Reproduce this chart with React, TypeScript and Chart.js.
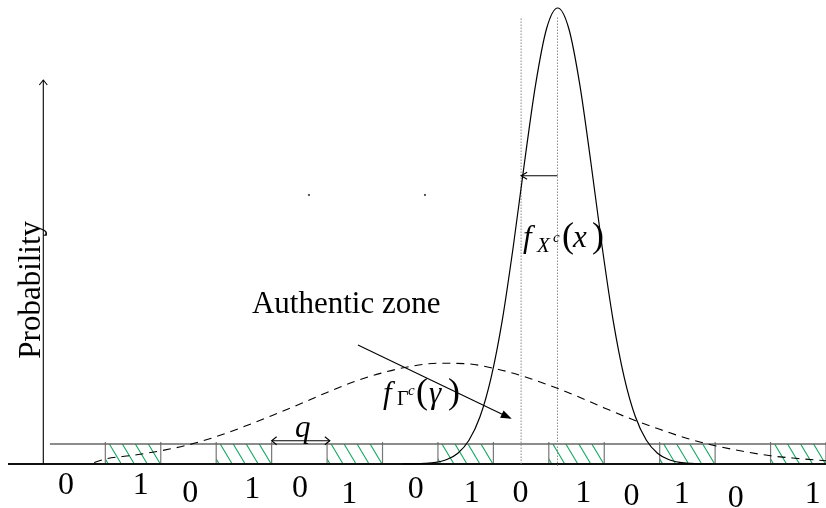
import React, { useEffect, useRef } from "react";
import { Chart, registerables } from "chart.js";

Chart.register(...registerables);

// ---- data (x in units of the bin width q, y in probability density units) ----
const bits = [0, 1, 0, 1, 0, 1, 0, 1, 0, 1, 0, 1, 0, 1]; // bin k spans [k, k+1]
const bitLabels = ["0", "1", "0", "1", "0", "1", "0", "1", "0", "1", "0", "1", "0", "1"];
const bitLabelX = [0.29, 1.64, 2.53, 3.65, 4.51, 5.4, 6.6, 7.61, 8.49, 9.62, 10.49, 11.4, 12.37, 13.76];
const bitLabelDrop = [30, 30, 38, 34, 33, 39, 34, 38, 38, 38, 41, 39, 43, 39];

const sharpX = [6.36, 6.56, 6.76, 6.96, 7.16, 7.36, 7.56, 7.76, 7.96, 8.16, 8.36, 8.56, 8.76, 8.96, 9.16,
  9.36, 9.56, 9.76, 9.96, 10.16, 10.36, 10.56, 10.76, 10.96, 11.16, 11.36, 11.56, 11.76, 11.96];
const sharpY = [0.0001, 0.0004, 0.0013, 0.0037, 0.0099, 0.0237, 0.052, 0.104, 0.19, 0.315, 0.478, 0.66, 0.831, 0.955, 1.0,
  0.955, 0.831, 0.66, 0.478, 0.315, 0.19, 0.104, 0.052, 0.0237, 0.0099, 0.0037, 0.0013, 0.0004, 0.0001];

const broadX = [0.8, 1.0, 1.5, 2.0, 2.5, 3.0, 3.5, 4.0, 4.5, 5.0, 5.5, 6.0, 6.5, 7.0, 7.5, 8.0, 8.5, 9.0, 9.5,
  10.0, 10.5, 11.0, 11.5, 12.0, 12.5, 13.0, 13.5, 14.0];
const broadY = [0.003, 0.011, 0.019, 0.029, 0.042, 0.06, 0.082, 0.106, 0.131, 0.157, 0.181, 0.2, 0.214, 0.221,
  0.22, 0.21, 0.194, 0.173, 0.149, 0.123, 0.098, 0.076, 0.056, 0.04, 0.028, 0.018, 0.012, 0.007];

const STRIP_TOP = 0.044;
const PEAK_X = 9.156;
const CENTER_X = 8.5;

const SERIF = "'Liberation Serif', 'Times New Roman', serif";
const HATCH = "rgb(24,168,98)";

function openHead(ctx: CanvasRenderingContext2D, tx: number, ty: number, dx: number, dy: number, len: number, half: number) {
  // tip at (tx,ty), direction (dx,dy) normalized points toward tip
  const n = Math.hypot(dx, dy);
  const ux = dx / n, uy = dy / n;
  const px = -uy, py = ux;
  ctx.beginPath();
  ctx.moveTo(tx - ux * len + px * half, ty - uy * len + py * half);
  ctx.lineTo(tx, ty);
  ctx.lineTo(tx - ux * len - px * half, ty - uy * len - py * half);
  ctx.stroke();
}

const diagramPlugin = {
  id: "diagram",
  beforeDatasetsDraw(chart: any) {
    const ctx: CanvasRenderingContext2D = chart.ctx;
    const xs = chart.scales.x, ys = chart.scales.y;
    const X = (u: number) => xs.getPixelForValue(u);
    const Y = (v: number) => ys.getPixelForValue(v);
    ctx.save();
    const y0 = Y(0), y1 = Y(STRIP_TOP);

    // hatched cells
    bits.forEach((b, k) => {
      if (!b) return;
      const l = X(k), r = X(k + 1);
      ctx.save();
      ctx.beginPath();
      ctx.rect(l, y1, r - l, y0 - y1);
      ctx.clip();
      ctx.strokeStyle = HATCH;
      ctx.lineWidth = 1.1;
      ctx.beginPath();
      for (let t = l + 4 - 26; t < r + 13; t += 13) {
        ctx.moveTo(t, y1);
        ctx.lineTo(t + 12, y0);
      }
      ctx.stroke();
      ctx.restore();
      ctx.strokeStyle = "#777";
      ctx.lineWidth = 1.2;
      ctx.beginPath();
      ctx.moveTo(l, y1 - 2); ctx.lineTo(l, y0);
      ctx.moveTo(r, y1 - 2); ctx.lineTo(r, y0);
      ctx.stroke();
    });

    // strip top line
    ctx.strokeStyle = "#666";
    ctx.lineWidth = 1.5;
    ctx.beginPath();
    ctx.moveTo(X(0), y1);
    ctx.lineTo(X(14), y1);
    ctx.stroke();

    // baseline
    ctx.strokeStyle = "#111";
    ctx.lineWidth = 2;
    ctx.beginPath();
    ctx.moveTo(X(-0.756), y0);
    ctx.lineTo(X(14), y0);
    ctx.stroke();

    // y axis with arrow
    const ax = X(-0.119);
    ctx.lineWidth = 1.1;
    ctx.strokeStyle = "#000";
    ctx.beginPath();
    ctx.moveTo(ax, y0);
    ctx.lineTo(ax, Y(0.842));
    ctx.stroke();
    openHead(ctx, ax, Y(0.842), 0, -1, 5, 4);

    // dotted verticals
    ctx.strokeStyle = "#888";
    ctx.lineWidth = 1;
    ctx.setLineDash([1.5, 1.5]);
    ctx.beginPath();
    ctx.moveTo(X(CENTER_X), y0);
    ctx.lineTo(X(CENTER_X), Y(0.98));
    ctx.moveTo(X(PEAK_X), y0 + 2);
    ctx.lineTo(X(PEAK_X), Y(0.98));
    ctx.stroke();
    ctx.setLineDash([]);
    ctx.restore();
  },
  afterDatasetsDraw(chart: any) {
    const ctx: CanvasRenderingContext2D = chart.ctx;
    const xs = chart.scales.x, ys = chart.scales.y;
    const X = (u: number) => xs.getPixelForValue(u);
    const Y = (v: number) => ys.getPixelForValue(v);
    ctx.save();
    ctx.fillStyle = "#000";
    ctx.strokeStyle = "#000";
    ctx.textBaseline = "alphabetic";

    // bit labels
    ctx.font = `32px ${SERIF}`;
    ctx.textAlign = "center";
    bitLabels.forEach((s, i) => {
      ctx.fillText(s, X(bitLabelX[i]), Y(0) + bitLabelDrop[i]);
    });
    ctx.textAlign = "left";

    // horizontal arrow from peak to center line
    const ay = Y(0.632);
    ctx.lineWidth = 1.1;
    ctx.beginPath();
    ctx.moveTo(X(PEAK_X), ay);
    ctx.lineTo(X(CENTER_X), ay);
    ctx.stroke();
    openHead(ctx, X(CENTER_X), ay, -1, 0, 6, 3.5);

    // f_{X^c}(x)
    {
      const x = X(8.533), y = Y(0.476);
      ctx.font = `italic 31px ${SERIF}`; ctx.fillText("f", x, y);
      ctx.font = `italic 21px ${SERIF}`; ctx.fillText("X", x + 14, y + 5);
      ctx.font = `italic 15px ${SERIF}`; ctx.fillText("c", x + 30, y - 5);
      ctx.font = `36px ${SERIF}`; ctx.fillText("(", x + 39, y);
      ctx.font = `italic 31px ${SERIF}`; ctx.fillText("x", x + 50, y);
      ctx.font = `36px ${SERIF}`; ctx.fillText(")", x + 69, y);
    }

    // Authentic zone
    ctx.font = `31px ${SERIF}`;
    ctx.fillText("Authentic zone", X(3.645), Y(0.331));

    // authentic arrow
    {
      const sx = X(5.557), sy = Y(0.261), ex = X(8.299), ey = Y(0.101);
      ctx.lineWidth = 1.1;
      ctx.beginPath();
      ctx.moveTo(sx, sy);
      ctx.lineTo(ex, ey);
      ctx.stroke();
      const n = Math.hypot(ex - sx, ey - sy);
      const ux = (ex - sx) / n, uy = (ey - sy) / n;
      ctx.beginPath();
      ctx.moveTo(ex + ux * 2, ey + uy * 2);
      ctx.lineTo(ex - ux * 9 - uy * 4, ey - uy * 9 + ux * 4);
      ctx.lineTo(ex - ux * 9 + uy * 4, ey - uy * 9 - ux * 4);
      ctx.closePath();
      ctx.fill();
    }

    // f_{Gamma^c}(gamma)
    {
      const x = X(6.008), y = Y(0.134);
      ctx.font = `italic 31px ${SERIF}`; ctx.fillText("f", x, y);
      ctx.font = `20px ${SERIF}`; ctx.fillText("Γ", x + 14, y + 2);
      ctx.font = `italic 15px ${SERIF}`; ctx.fillText("c", x + 25, y - 8);
      ctx.font = `36px ${SERIF}`; ctx.fillText("(", x + 33, y);
      ctx.font = `italic 31px ${SERIF}`; ctx.fillText("γ", x + 46, y);
      ctx.font = `36px ${SERIF}`; ctx.fillText(")", x + 65, y);
    }

    // q with double arrow
    ctx.font = `italic 31px ${SERIF}`;
    ctx.fillText("q", X(4.42), Y(0.059));
    {
      const qy = Y(0.051), l = X(4.0), r = X(5.05);
      ctx.lineWidth = 1.1;
      ctx.beginPath();
      ctx.moveTo(l, qy);
      ctx.lineTo(r, qy);
      ctx.stroke();
      openHead(ctx, l, qy, -1, 0, 5, 4);
      openHead(ctx, r, qy, 1, 0, 5, 4);
    }

    // Probability label
    ctx.save();
    ctx.translate(X(-0.179), Y(0.382));
    ctx.rotate(-Math.PI / 2);
    ctx.textAlign = "center";
    ctx.font = `31px ${SERIF}`;
    ctx.fillText("Probability", 0, 0);
    ctx.restore();

    // tiny stray dots
    ctx.fillStyle = "#555";
    ctx.fillRect(X(4.673) - 1, Y(0.59) - 1, 2, 2);
    ctx.fillRect(X(6.766) - 1, Y(0.59) - 1, 2, 2);

    ctx.restore();
  },
};

export default function App() {
  const ref = useRef<HTMLCanvasElement>(null);
  useEffect(() => {
    const sharp = sharpX.map((x, i) => ({ x, y: sharpY[i] }));
    const broad = broadX.map((x, i) => ({ x, y: broadY[i] }));
    const chart = new Chart(ref.current as HTMLCanvasElement, {
      type: "scatter",
      data: {
        datasets: [
          {
            label: "fX",
            data: sharp,
            showLine: true,
            borderColor: "#000",
            borderWidth: 1.2,
            pointRadius: 0,
            cubicInterpolationMode: "monotone",
          },
          {
            label: "fGamma",
            data: broad,
            showLine: true,
            borderColor: "#000",
            borderWidth: 1.1,
            borderDash: [8, 6],
            pointRadius: 0,
            cubicInterpolationMode: "monotone",
          },
        ],
      },
      options: {
        animation: false,
        responsive: false,
        events: [],
        layout: { padding: 0 },
        plugins: { legend: { display: false }, tooltip: { enabled: false }, title: { display: false } },
        scales: {
          x: { type: "linear", min: -0.9, max: 14.0, display: false },
          y: { type: "linear", min: -0.0965, max: 1.0175, display: false },
        },
      },
      plugins: [diagramPlugin],
    } as any);
    return () => chart.destroy();
  }, []);
  return (
    <div style={{ position: "absolute", left: 0, top: 0, width: 826, height: 508, background: "#fff" }}>
      <canvas ref={ref} width={826} height={508} style={{ display: "block" }} />
    </div>
  );
}
